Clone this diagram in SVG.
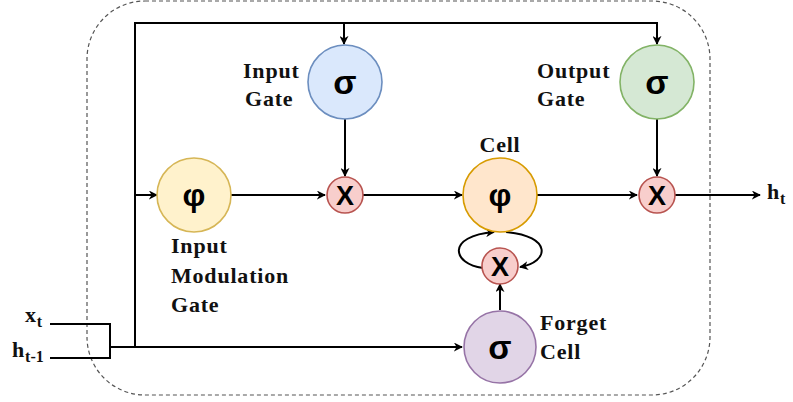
<svg xmlns="http://www.w3.org/2000/svg" width="793" height="402" viewBox="0 0 793 402">
<style>
.ln{fill:none;stroke:#000;stroke-width:2}
.lbl{font-family:"Liberation Serif","Times New Roman","DejaVu Serif",serif;font-weight:bold;font-size:22px;letter-spacing:0.8px;fill:#111}
.sub{font-size:16px;letter-spacing:0}
.sym{font-family:"Liberation Sans",Arial,sans-serif;font-weight:bold;fill:#000;text-anchor:middle}
.c{stroke-width:1.6}
</style>
<defs>
<marker id="ah" viewBox="0 0 10 10" refX="9" refY="5" markerWidth="9" markerHeight="9" orient="auto" markerUnits="userSpaceOnUse">
<path d="M0,0 L10,5 L0,10 L3,5 Z" fill="#000"/>
</marker>
</defs>
<rect x="87" y="1" width="623" height="394" rx="58" ry="58" fill="none" stroke="#555" stroke-width="1.2" stroke-dasharray="4,3"/>
<g id="connectors">
<polyline class="ln" points="50,324 110,324 110,358 50,358"/>
<polyline class="ln" points="110,347 135,347 135,23 657,23 657,44" marker-end="url(#ah)"/>
<line class="ln" x1="135" y1="347" x2="462" y2="347" marker-end="url(#ah)"/>
<line class="ln" x1="344" y1="23" x2="344" y2="44" marker-end="url(#ah)"/>
<line class="ln" x1="135" y1="195" x2="157" y2="195" marker-end="url(#ah)"/>
<line class="ln" x1="231" y1="195" x2="325" y2="195" marker-end="url(#ah)"/>
<line class="ln" x1="345" y1="119" x2="345" y2="176" marker-end="url(#ah)"/>
<line class="ln" x1="363" y1="195" x2="462" y2="195" marker-end="url(#ah)"/>
<line class="ln" x1="537" y1="195" x2="637" y2="195" marker-end="url(#ah)"/>
<line class="ln" x1="657" y1="119" x2="657" y2="176" marker-end="url(#ah)"/>
<line class="ln" x1="675" y1="195" x2="760" y2="195" marker-end="url(#ah)"/>
<line class="ln" x1="500" y1="310" x2="500" y2="284" marker-end="url(#ah)"/>
<path class="ln" d="M483,268 C452,264 446,236 494,232" marker-end="url(#ah)"/>
<path class="ln" d="M506,232 C552,236 550,262 520,267" marker-end="url(#ah)"/>
</g>
<g id="input-gate">
<circle cx="345" cy="82" r="37" fill="#dae8fc" stroke="#6c8ebf" class="c"/>
<text class="sym" x="345" y="94" font-size="34">σ</text>
<text class="lbl" x="243" y="78">Input</text>
<text class="lbl" x="245" y="106">Gate</text>
</g>
<g id="output-gate">
<circle cx="657" cy="82" r="37" fill="#d5e8d4" stroke="#82b366" class="c"/>
<text class="sym" x="657" y="94" font-size="34">σ</text>
<text class="lbl" x="537" y="78">Output</text>
<text class="lbl" x="537" y="106">Gate</text>
</g>
<g id="input-modulation">
<circle cx="194" cy="195" r="37" fill="#fff2cc" stroke="#d6b656" class="c"/>
<text class="sym" x="194" y="206" font-size="32">φ</text>
<text class="lbl" x="171" y="253">Input</text>
<text class="lbl" x="171" y="283">Modulation</text>
<text class="lbl" x="171" y="312">Gate</text>
</g>
<g id="input-mult">
<circle cx="345" cy="195" r="18" fill="#f8cecc" stroke="#b85450" class="c"/>
<text class="sym" x="345" y="205" font-size="27">X</text>
</g>
<g id="cell">
<circle cx="500" cy="195" r="37" fill="#ffe6cc" stroke="#d79b00" class="c"/>
<text class="sym" x="500" y="206" font-size="32">φ</text>
<text class="lbl" x="500" y="152" text-anchor="middle">Cell</text>
</g>
<g id="output-mult">
<circle cx="657" cy="195" r="18" fill="#f8cecc" stroke="#b85450" class="c"/>
<text class="sym" x="657" y="205" font-size="27">X</text>
</g>
<g id="forget-mult">
<circle cx="500" cy="266" r="18" fill="#f8cecc" stroke="#b85450" class="c"/>
<text class="sym" x="500" y="276" font-size="27">X</text>
</g>
<g id="forget-gate">
<circle cx="500" cy="347" r="36" fill="#e1d5e7" stroke="#9673a6" class="c"/>
<text class="sym" x="500" y="359" font-size="34">σ</text>
<text class="lbl" x="540" y="330">Forget</text>
<text class="lbl" x="540" y="359">Cell</text>
</g>
<g id="x-input">
<text class="lbl" x="25" y="322">x<tspan class="sub" dy="5">t</tspan></text>
</g>
<g id="h-input">
<text class="lbl" x="12" y="357">h<tspan class="sub" dy="5">t-1</tspan></text>
</g>
<g id="h-output">
<text class="lbl" x="767" y="199">h<tspan class="sub" dy="5">t</tspan></text>
</g>
</svg>
